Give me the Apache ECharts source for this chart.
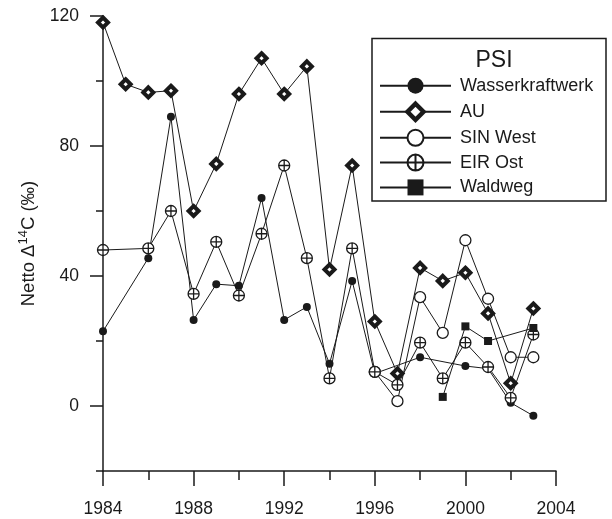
<!DOCTYPE html>
<html>
<head>
<meta charset="utf-8">
<script src="https://cdn.jsdelivr.net/npm/echarts@6/dist/echarts.min.js"></script>
<style>html,body{margin:0;padding:0;background:#fff}#c{width:612px;height:519px}</style>
</head>
<body>
<div id="c"></div>
<script>
var years = [1984,1985,1986,1987,1988,1989,1990,1991,1992,1993,1994,1995,1996,1997,1998,1999,2000,2001,2002,2003];
var wasserkraftwerk = [23,null,45.5,89,26.5,37.5,37,64,26.5,30.5,13,38.5,10,null,15,null,12.3,11.5,1,-3];
var au = [118,99,96.5,97,60,74.5,96,107,96,104.5,42,74,26,10,42.5,38.5,41,28.5,7,30];
var sinWest = [null,null,null,null,null,null,null,null,null,null,null,null,10.5,1.5,33.5,22.5,51,33,15,15];
var eirOst = [48,null,48.5,60,34.5,50.5,34,53,74,45.5,8.5,48.5,10.5,6.5,19.5,8.5,19.5,12,2.5,22];
var waldweg = [null,null,null,null,null,null,null,null,null,null,null,null,null,null,null,2.8,24.5,20,null,24];
var xTicks = [1984,1988,1992,1996,2000,2004];
var yTicks = [0,40,80,120];
var yMinorTicks = [-20,20,60,100];

function pairs(vals){
  var out = [];
  for (var i = 0; i < years.length; i++) if (vals[i] !== null) out.push([years[i], vals[i]]);
  return out;
}
var INK = '#1a1a1a';
var FONT = 'Liberation Sans, Arial, sans-serif';
var crossCircle = 'path://M-10,0 A10,10 0 1,1 10,0 A10,10 0 1,1 -10,0 Z M-10,0 L10,0 M0,-10 L0,10';

function mk(name, vals, symbol, size, itemStyle, z){
  return {
    name: name, type: 'line', data: pairs(vals), symbol: symbol, symbolSize: size,
    lineStyle: {color: INK, width: 1}, itemStyle: itemStyle, z: z,
    animation: false, emphasis: {disabled: true}
  };
}

var chart = echarts.init(document.getElementById('c'), null, {renderer: 'canvas'});
chart.setOption({
  animation: false,
  backgroundColor: '#fff',
  grid: {left: 103, right: 56, top: 16, bottom: 48, containLabel: false},
  xAxis: [{
    type: 'value', min: 1984, max: 2004, interval: 4,
    axisLine: {show: true, onZero: false, lineStyle: {color: INK, width: 1.5}},
    axisTick: {show: true, length: 15, lineStyle: {color: INK, width: 1.5}},
    minorTick: {show: true, splitNumber: 2, length: 9, lineStyle: {color: INK, width: 1.5}},
    splitLine: {show: false},
    axisLabel: {margin: 29, color: INK, fontSize: 17.5, fontFamily: FONT,
      customValues: xTicks, formatter: function(v){ return String(v); }}
  }],
  yAxis: [{
    type: 'value', min: -20, max: 120, interval: 20,
    axisLine: {show: true, onZero: false, lineStyle: {color: INK, width: 1.5}},
    axisTick: {show: true, length: 13, customValues: yTicks, lineStyle: {color: INK, width: 1.5}},
    splitLine: {show: false},
    axisLabel: {margin: 24, color: INK, fontSize: 17.5, fontFamily: FONT, customValues: yTicks},
    name: '{t|Netto \u0394}{s|14}{t|C (\u2030)}',
    nameLocation: 'middle', nameGap: 62,
    nameTextStyle: {
      color: INK, fontFamily: FONT,
      rich: {
        t: {fontSize: 18.5, fontFamily: FONT, color: INK, lineHeight: 22, verticalAlign: 'bottom'},
        s: {fontSize: 13, fontFamily: FONT, color: INK, lineHeight: 22, verticalAlign: 'top', padding: [0,0,6,0]}
      }
    }
  },{
    type: 'value', min: -20, max: 120, interval: 20, position: 'left',
    axisLine: {show: true, onZero: false, lineStyle: {color: 'rgba(0,0,0,0)', width: 1}},
    axisTick: {show: true, length: 7, customValues: yMinorTicks, lineStyle: {color: INK, width: 1.5}},
    axisLabel: {show: false},
    splitLine: {show: false}
  }],
  legend: {
    orient: 'vertical', left: 379, top: 76.7, padding: 0,
    itemWidth: 71, itemHeight: 20, itemGap: 6.8,
    textStyle: {fontSize: 18, fontFamily: FONT, color: INK, padding: [0,0,0,4]},
    data: ['Wasserkraftwerk', {name: 'AU', itemStyle: {borderWidth: 4.5}}, 'SIN West', 'EIR Ost', 'Waldweg'],
    selectedMode: false
  },
  graphic: [
    {type: 'rect', x: 372, y: 38.5, shape: {x: 0, y: 0, width: 234, height: 162.5},
     style: {fill: 'none', stroke: INK, lineWidth: 1.5}, z: -1},
    {type: 'text', x: 494, y: 61, style: {text: 'PSI', font: '23px Liberation Sans, Arial, sans-serif', fill: INK, align: 'center', verticalAlign: 'middle'}}
  ],
  series: [
    mk('Wasserkraftwerk', wasserkraftwerk, 'circle', 8, {color: INK}, 2),
    mk('AU', au, 'diamond', 10, {color: '#fff', borderColor: INK, borderWidth: 4}, 3),
    mk('SIN West', sinWest, 'circle', 11, {color: '#fff', borderColor: INK, borderWidth: 1.3}, 4),
    mk('EIR Ost', eirOst, crossCircle, 11, {color: '#fff', borderColor: INK, borderWidth: 1.3}, 5),
    mk('Waldweg', waldweg, 'rect', 8, {color: INK}, 6)
  ]
});
</script>
</body>
</html>
